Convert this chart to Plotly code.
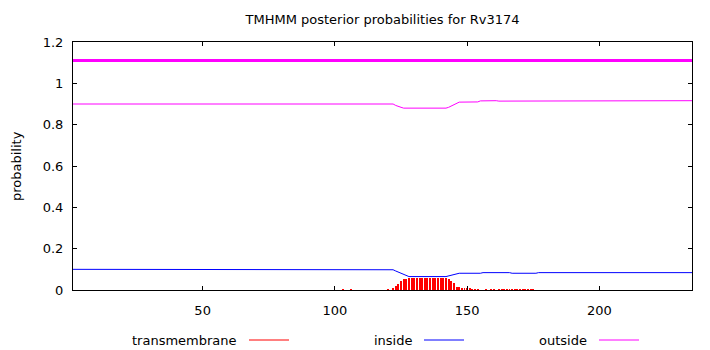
import plotly.graph_objects as go

# TMHMM posterior probabilities for Rv3174 (sequence length 235)
seq_start = 1
seq_end = 235

# predicted topology (whole chain outside)
topo_pos = [1, 235]
topo_level = [1.11, 1.11]

# posterior probability of "inside"
inside_pos = [1, 121, 122, 123, 124, 125, 126, 127, 128, 142, 143, 144, 145, 146,
              147, 155, 156, 166, 167, 176, 177, 235]
inside_prob = [0.100, 0.100, 0.098, 0.092, 0.086, 0.081, 0.076, 0.069, 0.065, 0.065,
               0.068, 0.072, 0.076, 0.079, 0.081, 0.081, 0.084, 0.084, 0.081, 0.081,
               0.084, 0.084]

# posterior probability of "outside"
outside_pos = [1, 122, 123, 124, 125, 126, 142, 143, 144, 145, 146, 147, 154, 155,
               161, 162, 235]
outside_prob = [0.900, 0.900, 0.893, 0.887, 0.884, 0.880, 0.880, 0.884, 0.890, 0.897,
                0.904, 0.909, 0.910, 0.915, 0.916, 0.914, 0.916]

# posterior probability of "transmembrane" (drawn as impulses)
tm_pos = [103, 106, 120, 122, 123, 124, 125, 126, 127, 128, 129, 130, 131, 132, 133,
          134, 135, 136, 137, 138, 139, 140, 141, 142, 143, 144, 145, 146, 147, 148,
          149, 150, 151, 152, 153, 154, 157, 159, 160, 162, 163, 164, 165, 166, 167,
          168, 169, 170, 171, 172, 173, 174, 175]
tm_prob = [0.004, 0.004, 0.004, 0.006, 0.019, 0.031, 0.044, 0.053, 0.055, 0.059,
           0.059, 0.059, 0.059, 0.059, 0.059, 0.059, 0.059, 0.059, 0.059, 0.059,
           0.059, 0.059, 0.059, 0.058, 0.052, 0.044, 0.033, 0.016, 0.013, 0.011,
           0.008, 0.005, 0.005, 0.004, 0.004, 0.004, 0.004, 0.004, 0.004, 0.004,
           0.004, 0.004, 0.004, 0.004, 0.004, 0.004, 0.004, 0.004, 0.004, 0.004,
           0.004, 0.004, 0.004]

x_ticks = [50, 100, 150, 200]
y_ticks = [0, 0.2, 0.4, 0.6, 0.8, 1, 1.2]
y_tick_text = ["0", "0.2", "0.4", "0.6", "0.8", "1", "1.2"]

RED = "#ff0000"
BLUE = "#0000ff"
MAGENTA = "#ff00ff"
FONT = "DejaVu Sans"

W, H = 710, 350
ML, MR, MT, MB = 73, 18, 42, 60
PW = W - ML - MR

fig = go.Figure()

fig.add_trace(go.Bar(x=tm_pos, y=tm_prob, width=0.36, marker=dict(color=RED, line=dict(width=0)),
                     showlegend=False, name="transmembrane"))
fig.add_trace(go.Scatter(x=inside_pos, y=inside_prob, mode="lines",
                         line=dict(color=BLUE, width=1), showlegend=False, name="inside"))
fig.add_trace(go.Scatter(x=outside_pos, y=outside_prob, mode="lines",
                         line=dict(color=MAGENTA, width=1), showlegend=False, name="outside"))
fig.add_trace(go.Scatter(x=topo_pos, y=topo_level, mode="lines",
                         line=dict(color=MAGENTA, width=3), showlegend=False, hoverinfo="skip"))

axis_common = dict(showline=True, linecolor="black", linewidth=1, mirror="ticks",
                   ticks="inside", ticklen=4, tickcolor="black", tickwidth=1,
                   showgrid=False, zeroline=False,
                   tickfont=dict(family=FONT, size=13, color="black"))

fig.update_xaxes(range=[seq_start, seq_end], tickvals=x_ticks, ticklabelstandoff=8, **axis_common)
fig.update_yaxes(range=[0, 1.2], tickvals=y_ticks, ticktext=y_tick_text,
                 ticklabelstandoff=6, **axis_common)


def px_to_paper(px):
    return (px - ML) / PW


annotations = [
    dict(text="probability", textangle=-90, xref="paper", yref="paper", x=0, y=0.5,
         xanchor="center", xshift=-57, showarrow=False,
         font=dict(family=FONT, size=13, color="black")),
]
shapes = []

# key entries below the plot: label followed by a line sample
legend_items = [("transmembrane", RED, 239, 249, 289),
                ("inside", BLUE, 415, 424, 464),
                ("outside", MAGENTA, 589, 599, 639)]
for label, color, text_right, line_x0, line_x1 in legend_items:
    annotations.append(dict(text=label, xref="paper", yref="paper",
                            x=px_to_paper(text_right), y=0, xanchor="right",
                            yanchor="middle", yshift=-50, showarrow=False,
                            font=dict(family=FONT, size=13, color="black")))
    shapes.append(dict(type="line", xref="paper", yref="paper",
                       x0=px_to_paper(line_x0), x1=px_to_paper(line_x1),
                       y0=-50 / (H - MT - MB), y1=-50 / (H - MT - MB),
                       line=dict(color=color, width=1)))

fig.update_layout(
    width=W, height=H,
    margin=dict(l=ML, r=MR, t=MT, b=MB),
    paper_bgcolor="white", plot_bgcolor="white",
    title=dict(text="TMHMM posterior probabilities for Rv3174", x=0.5 * (ML + W - MR) / W,
               xanchor="center", y=1 - 19 / H, yanchor="middle",
               font=dict(family=FONT, size=13, color="black")),
    bargap=0,
    annotations=annotations,
    shapes=shapes,
    showlegend=False,
)

fig.write_html("out.html")
